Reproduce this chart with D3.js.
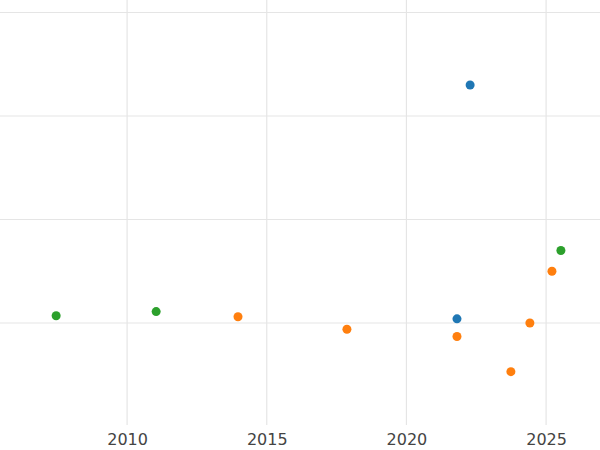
<!DOCTYPE html>
<html>
<head>
<meta charset="utf-8">
<script src="https://cdn.jsdelivr.net/npm/d3@7"></script>
<style>
  body { margin: 0; background: #fff; }
  text { font-family: "DejaVu Sans", sans-serif; }
</style>
</head>
<body>
<svg id="canvas" width="600" height="450"></svg>
<script>
// series data (year, value)
const blueX = [2022.28, 2021.81]
const blueY = [3.30, 1.04]
const greenX = [2007.46, 2011.04, 2025.53]
const greenY = [1.07, 1.11, 1.70]
const orangeX = [2013.97, 2017.87, 2021.81, 2023.74, 2024.42, 2025.21]
const orangeY = [1.06, 0.94, 0.87, 0.53, 1.00, 1.50]
const xTicks = [2010, 2015, 2020, 2025]
const yGrid = [1, 2, 3, 4]

const series = [
  {xs: blueX, ys: blueY, color: "#1f77b4"},
  {xs: orangeX, ys: orangeY, color: "#ff7f0e"},
  {xs: greenX, ys: greenY, color: "#2ca02c"}
]

const svg = d3.select('#canvas')
const x = d3.scaleLinear().domain([2005.45, 2026.93]).range([0, 600])
const y = d3.scaleLinear().domain([1, 2]).range([323, 219.5])

// grid
svg.append("g").selectAll("line").data(yGrid).enter().append("line")
  .attr("x1", 0).attr("x2", 600)
  .attr("y1", d => y(d)).attr("y2", d => y(d))
  .attr("stroke", "#e5e5e5").attr("stroke-width", 1.2)
svg.append("g").selectAll("line").data(xTicks).enter().append("line")
  .attr("x1", d => x(d)).attr("x2", d => x(d))
  .attr("y1", 0).attr("y2", 425)
  .attr("stroke", "#e5e5e5").attr("stroke-width", 1.2)

// x axis labels
const ax = svg.append("g").attr("transform", "translate(0,428)")
  .call(d3.axisBottom(x).tickValues(xTicks).tickSize(0).tickPadding(6).tickFormat(d3.format("d")))
ax.select(".domain").remove()
ax.selectAll("text").attr("font-size", 16).attr("fill", "#444")
  .style("font-family", "DejaVu Sans, sans-serif")

// points
series.forEach(s => {
  svg.append("g").selectAll("circle").data(s.xs.map((v, i) => [v, s.ys[i]]))
    .enter().append("circle")
    .attr("cx", d => x(d[0])).attr("cy", d => y(d[1]))
    .attr("r", 4.5).attr("fill", s.color)
})
</script>
</body>
</html>
